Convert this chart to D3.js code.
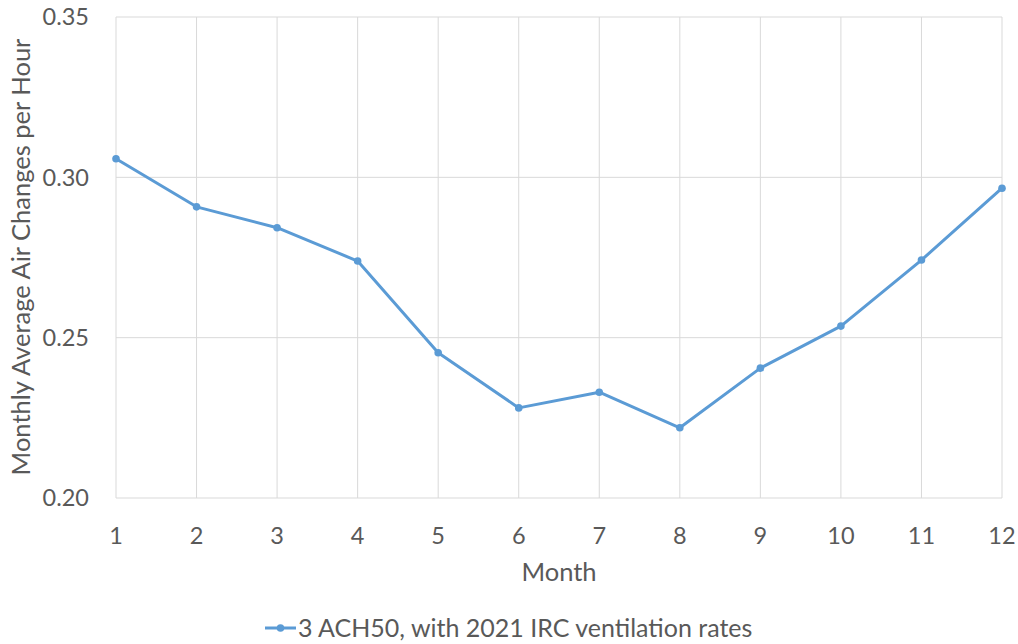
<!DOCTYPE html>
<html><head><meta charset="utf-8">
<script src="https://cdn.jsdelivr.net/npm/d3@7"></script>
<style>body{margin:0;background:#fff}svg text{font-family:Lato,"Open Sans",sans-serif;fill:#595959}</style>
</head><body><svg id="c" width="1018" height="644"></svg>
<script>
const months = [1,2,3,4,5,6,7,8,9,10,11,12];
const values = [0.3058,0.2908,0.2843,0.2739,0.2453,0.2281,0.2330,0.2219,0.2405,0.2536,0.2742,0.2966];
const yTicks = [0.20,0.25,0.30,0.35];
const seriesName = "3 ACH50, with 2021 IRC ventilation rates";
const xTitle = "Month", yTitle = "Monthly Average Air Changes per Hour";

const svg = d3.select("#c");
const L=116,R=1002,T=17,B=498;
const x = d3.scaleLinear().domain([1,12]).range([L,R]);
const y = d3.scaleLinear().domain([0.20,0.35]).range([B,T]);
const grid = "#d9d9d9";
svg.append("g").selectAll("line").data(yTicks).join("line")
  .attr("x1",L).attr("x2",R).attr("y1",d=>y(d)).attr("y2",d=>y(d)).attr("stroke",grid).attr("stroke-width",1);
svg.append("g").selectAll("line").data(months).join("line")
  .attr("x1",d=>x(d)).attr("x2",d=>x(d)).attr("y1",T).attr("y2",B).attr("stroke",grid).attr("stroke-width",1);
svg.append("g").selectAll("text").data(yTicks).join("text")
  .attr("x",89).attr("y",d=>y(d)).attr("dy","0.36em").attr("text-anchor","end").attr("font-size",23.5)
  .text(d=>d3.format(".2f")(d));
svg.append("g").selectAll("text").data(months).join("text")
  .attr("x",d=>x(d)).attr("y",536).attr("dy","0.36em").attr("text-anchor","middle").attr("font-size",23.5).text(d=>d);
svg.append("text").attr("x",559).attr("y",572).attr("dy","0.36em").attr("text-anchor","middle").attr("font-size",25.5).text(xTitle);
svg.append("text").attr("transform","translate(21,257) rotate(-90)").attr("dy","0.36em").attr("text-anchor","middle").attr("font-size",25.5).text(yTitle);
const col="#5b9bd5";
svg.append("path").datum(months.map((m,i)=>[m,values[i]]))
  .attr("d",d3.line().x(d=>x(d[0])).y(d=>y(d[1]))).attr("fill","none").attr("stroke",col).attr("stroke-width",3).attr("stroke-linejoin","round");
svg.append("g").selectAll("circle").data(months).join("circle")
  .attr("cx",d=>x(d)).attr("cy",(d,i)=>y(values[i])).attr("r",3.8).attr("fill",col);
const lg = svg.append("g");
lg.append("line").attr("x1",265).attr("x2",296).attr("y1",628).attr("y2",628).attr("stroke",col).attr("stroke-width",3);
lg.append("circle").attr("cx",280.5).attr("cy",628).attr("r",3.8).attr("fill",col);
lg.append("text").attr("x",298).attr("y",628).attr("dy","0.36em").attr("font-size",25).text(seriesName);
</script></body></html>
